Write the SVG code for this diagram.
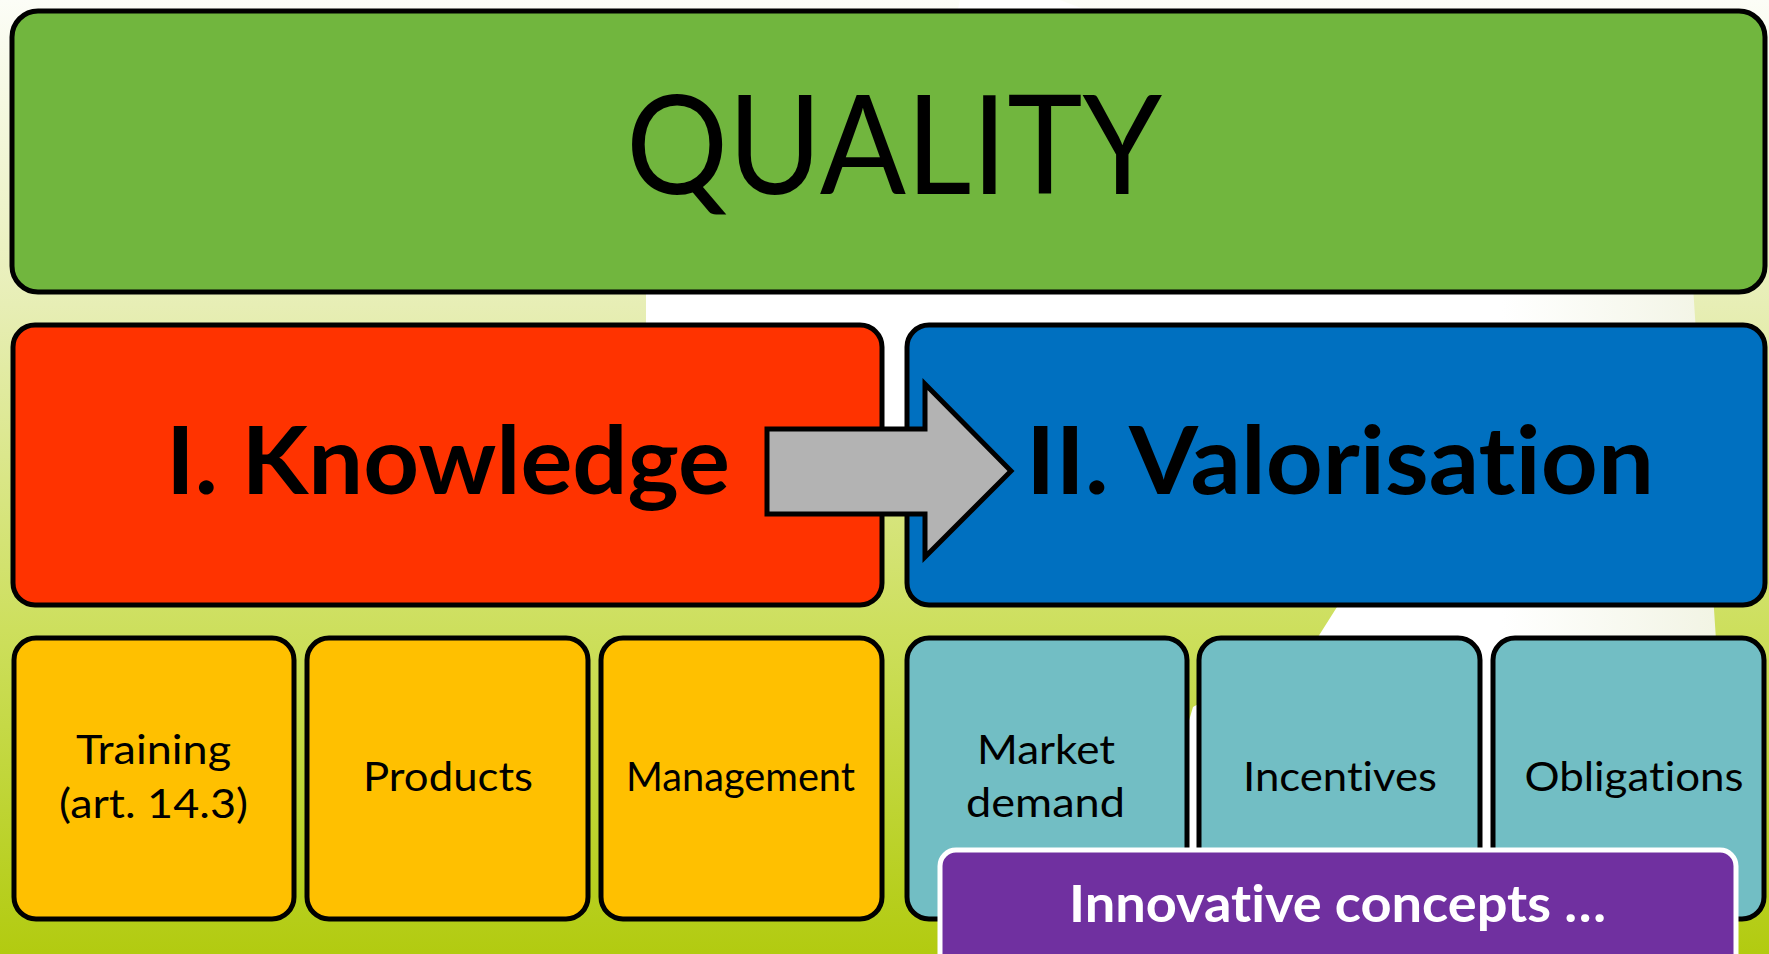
<svg xmlns="http://www.w3.org/2000/svg" width="1769" height="954" viewBox="0 0 1769 954">
  <defs>
    <linearGradient id="bg" x1="0" y1="0" x2="0" y2="1">
      <stop offset="0" stop-color="#fcfdf7"/>
      <stop offset="0.32" stop-color="#e7eeb5"/>
      <stop offset="0.66" stop-color="#cddf5d"/>
      <stop offset="1" stop-color="#b2cb10"/>
    </linearGradient>
    <linearGradient id="shade" x1="0" y1="0" x2="1" y2="0">
      <stop offset="0" stop-color="#ffffff"/>
      <stop offset="0.8" stop-color="#ffffff"/>
      <stop offset="1" stop-color="#f2f4e4"/>
    </linearGradient>
  </defs>
  <style>
    .box { stroke: #000; stroke-width: 5; }
    .green { fill: #71b63e; }
    .red { fill: #ff3300; }
    .blue { fill: #0070c0; }
    .orange { fill: #ffc000; }
    .teal { fill: #72bec4; }
    .purple { fill: #7030a0; stroke: #ffffff; stroke-width: 5; }
    .t { font-family: Lato, "Open Sans", "Liberation Sans", sans-serif; text-anchor: middle; fill: #000;
         font-variant-ligatures: none; font-feature-settings: "liga" 0, "clig" 0, "dlig" 0; }
    .big { font-size: 137px; font-weight: 400; }
    .mid { font-size: 94px; font-weight: 700; }
    .small { font-size: 40px; font-weight: 400; }
    .inno { font-size: 52px; font-weight: 700; fill: #ffffff; }
  </style>

  <!-- background -->
  <rect x="0" y="0" width="1769" height="954" fill="url(#bg)"/>
  <path d="M960,0 L1060,0 L1690,240 L1716,640 L1712,954 L1120,954 L1193,707 L1318,637 L1337,607 L905,480 L646,330 L646,270 L900,270 Z" fill="url(#shade)"/>

  <!-- top -->
  <g id="quality">
    <rect class="box green" x="12" y="11" width="1753" height="281" rx="26"/>
    <text class="t big" x="894" y="194" textLength="536" lengthAdjust="spacingAndGlyphs">QUALITY</text>
  </g>

  <g id="knowledge">
    <rect class="box red" x="13" y="325" width="869" height="280" rx="22"/>
    <text class="t mid" x="448" y="494" textLength="564" lengthAdjust="spacingAndGlyphs">I. Knowledge</text>
  </g>

  <g id="valorisation">
    <rect class="box blue" x="907" y="325" width="858" height="280" rx="22"/>
    <text class="t mid" x="1340" y="494" textLength="628" lengthAdjust="spacingAndGlyphs">II. Valorisation</text>
  </g>

  <g id="connectors">
    <polygon points="767,429 925,429 925,384 1011,471 925,557 925,514 767,514" fill="#b3b3b3" stroke="#000" stroke-width="5" stroke-linejoin="miter"/>
  </g>

  <g id="training">
    <rect class="box orange" x="14" y="638" width="280" height="281" rx="22"/>
    <text class="t small" x="153.5" y="764" textLength="155" lengthAdjust="spacingAndGlyphs">Training</text>
    <text class="t small" x="153.5" y="818" textLength="189" lengthAdjust="spacingAndGlyphs">(art. 14.3)</text>
  </g>
  <g id="products">
    <rect class="box orange" x="307" y="638" width="281" height="281" rx="22"/>
    <text class="t small" x="448" y="791" textLength="170" lengthAdjust="spacingAndGlyphs">Products</text>
  </g>
  <g id="management">
    <rect class="box orange" x="601" y="638" width="281" height="281" rx="22"/>
    <text class="t small" x="740.5" y="791" textLength="229" lengthAdjust="spacingAndGlyphs">Management</text>
  </g>
  <g id="market-demand">
    <rect class="box teal" x="907" y="638" width="280" height="281" rx="22"/>
    <text class="t small" x="1046" y="764" textLength="138" lengthAdjust="spacingAndGlyphs">Market</text>
    <text class="t small" x="1045.5" y="817" textLength="159" lengthAdjust="spacingAndGlyphs">demand</text>
  </g>
  <g id="incentives">
    <rect class="box teal" x="1199" y="638" width="281" height="281" rx="22"/>
    <text class="t small" x="1340" y="791" textLength="194" lengthAdjust="spacingAndGlyphs">Incentives</text>
  </g>
  <g id="obligations">
    <rect class="box teal" x="1493" y="638" width="271" height="281" rx="22"/>
    <text class="t small" x="1634" y="791" textLength="219" lengthAdjust="spacingAndGlyphs">Obligations</text>
  </g>

  <g id="innovative">
    <rect class="purple" x="940" y="850" width="796" height="150" rx="16"/>
    <text class="t inno" x="1337.5" y="922" textLength="537" lengthAdjust="spacingAndGlyphs">Innovative concepts …</text>
  </g>
</svg>
